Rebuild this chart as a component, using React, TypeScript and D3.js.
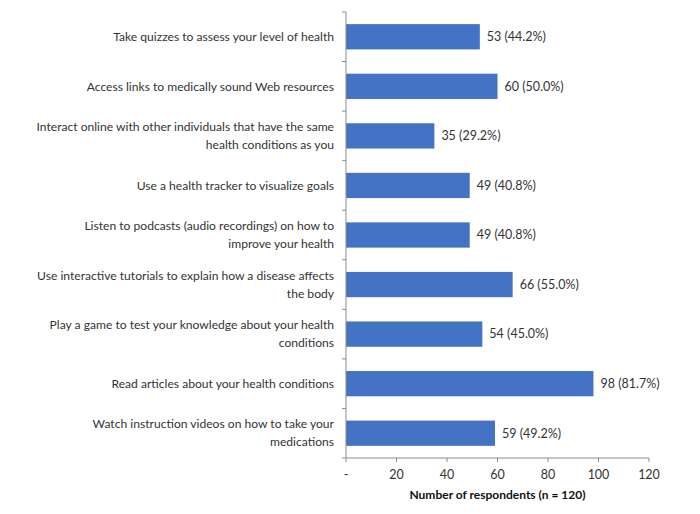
import React from 'react';
import * as d3 from 'd3';

// categories, top to bottom
const categories: string[][] = [
  ['Take quizzes to assess your level of health'],
  ['Access links to medically sound Web resources'],
  ['Interact online with other individuals that have the same', 'health conditions as you'],
  ['Use a health tracker to visualize goals'],
  ['Listen to podcasts (audio recordings) on how to', 'improve your health'],
  ['Use interactive tutorials to explain how a disease affects', 'the body'],
  ['Play a game to test your knowledge about your health', 'conditions'],
  ['Read articles about your health conditions'],
  ['Watch instruction videos on how to take your', 'medications'],
];
const counts = [53, 60, 35, 49, 49, 66, 54, 98, 59];
const percents = ['44.2%', '50.0%', '29.2%', '40.8%', '40.8%', '55.0%', '45.0%', '81.7%', '49.2%'];
const xTicks = [0, 20, 40, 60, 80, 100, 120];

const W = 700, H = 514;
const margin = { top: 12, right: 51, bottom: 56, left: 346 };
const font = 'Lato, "Open Sans", sans-serif';

export default function App() {
  const x = d3.scaleLinear().domain([0, 120]).range([margin.left, W - margin.right]);
  const y = d3.scaleBand<number>()
    .domain(d3.range(categories.length))
    .range([margin.top, H - margin.bottom])
    .paddingInner(0.49)
    .paddingOuter(0.245);
  const step = y.step();
  const axisY = H - margin.bottom;
  const axisColor = '#8c8c8c';

  return (
    <svg width={W} height={H} style={{ position: 'absolute', left: 0, top: 0, background: '#fff' }}
      fontFamily={font}>
      {/* bars */}
      <g fill="#4472c4">
        {counts.map((v, i) => (
          <rect key={i} x={x(0)} y={y(i)} width={x(v) - x(0)} height={y.bandwidth()} />
        ))}
      </g>
      {/* value labels */}
      <g fontSize={12.5} fill="#333">
        {counts.map((v, i) => (
          <text key={i} x={x(v) + 7} y={(y(i) as number) + y.bandwidth() / 2} dy="0.35em">
            {`${v} (${percents[i]})`}
          </text>
        ))}
      </g>
      {/* axes */}
      <g stroke={axisColor} strokeWidth={1}>
        <line x1={x(0)} x2={x(0)} y1={margin.top} y2={axisY} />
        {d3.range(categories.length + 1).map(i => (
          <line key={i} x1={x(0) - 4} x2={x(0)} y1={margin.top + i * step} y2={margin.top + i * step} />
        ))}
        <line x1={x(0)} x2={x(120)} y1={axisY} y2={axisY} />
        {xTicks.map(t => (
          <line key={t} x1={x(t)} x2={x(t)} y1={axisY} y2={axisY + 4} />
        ))}
      </g>
      {/* category labels */}
      <g fontSize={12.1} fill="#333" textAnchor="end">
        {categories.map((lines, i) => {
          const cy = (y(i) as number) + y.bandwidth() / 2;
          const lh = 18;
          return (
            <text key={i} x={x(0) - 12} y={cy - ((lines.length - 1) * lh) / 2} dy="0.35em">
              {lines.map((l, j) => (
                <tspan key={j} x={x(0) - 12} dy={j === 0 ? '0.35em' : lh}>{l}</tspan>
              ))}
            </text>
          );
        })}
      </g>
      {/* x tick labels */}
      <g fontSize={12.5} fill="#333" textAnchor="middle">
        {xTicks.map(t => (
          <text key={t} x={x(t)} y={axisY + 17} dy="0.35em">{t === 0 ? '-' : t}</text>
        ))}
      </g>
      <text x={(x(0) + x(120)) / 2} y={axisY + 37} dy="0.35em" textAnchor="middle"
        fontSize={12} fontWeight="bold" fill="#111">
        Number of respondents (n = 120)
      </text>
    </svg>
  );
}
